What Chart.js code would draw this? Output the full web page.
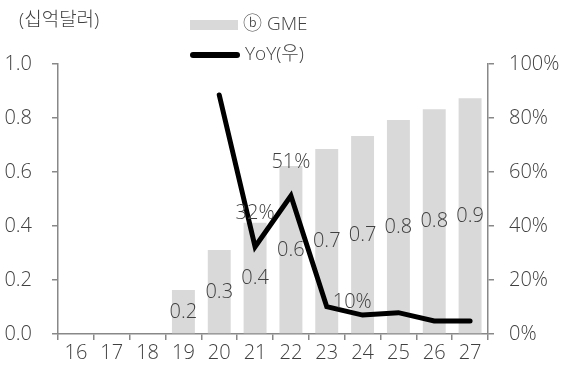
<!DOCTYPE html>
<html>
<head>
<meta charset="utf-8">
<script src="https://cdn.jsdelivr.net/npm/chart.js@4"></script>
<style>
  html, body { margin: 0; padding: 0; background: #fff; }
  #wrap { position: relative; width: 564px; height: 368px; font-family: "Open Sans", "Noto Sans CJK KR", sans-serif; font-weight: 300; color: #404040; }
  #unit { position: absolute; left: 19px; top: 4px; font-size: 19px; }
  .leg { position: absolute; left: 190px; font-size: 19px; line-height: 22px; }
  .leg span { display: inline-block; vertical-align: middle; margin-right: 5px; }
  #leg1 { top: 12px; }
  #leg2 { top: 42px; }
</style>
</head>
<body>
<div id="wrap">
  <canvas id="gmeChart" width="564" height="368"></canvas>
  <div id="unit">(십억달러)</div>
  <div class="leg" id="leg1"><span style="width:48px;height:10px;background:#d9d9d9"></span>ⓑ GME</div>
  <div class="leg" id="leg2"><span style="width:50px;height:6px;background:#000;border-radius:3px"></span>YoY(우)</div>
</div>
<script>
const years = ['16', '17', '18', '19', '20', '21', '22', '23', '24', '25', '26', '27'];
const gme = [null, null, null, 0.163, 0.311, 0.412, 0.622, 0.685, 0.733, 0.793, 0.832, 0.873];
const yoy = [null, null, null, null, 88.5, 32.3, 51.2, 10.1, 7.0, 7.9, 4.8, 4.8];
const leftTicks = [0, 0.2, 0.4, 0.6, 0.8, 1.0];
const rightTicks = [0, 20, 40, 60, 80, 100];
// which yoy points get a label, and where
const yoyLabelAt = { '21': 'above', '22': 'above', '23': 'right' };

const labelColor = '#404040';
const fontFamily = '"Open Sans", "Noto Sans CJK KR", sans-serif';
const labelFont = '300 20px ' + fontFamily;
const tickFont = { size: 20, weight: 300, family: fontFamily };

const valueLabels = {
  id: 'valueLabels',
  afterDatasetsDraw(chart) {
    const ctx = chart.ctx;
    const x = chart.scales.x, y = chart.scales.y, y2 = chart.scales.y2;
    ctx.save();
    ctx.font = labelFont;
    ctx.fillStyle = labelColor;
    ctx.textBaseline = 'middle';
    gme.forEach((v, i) => {
      if (v == null) return;
      ctx.textAlign = 'center';
      ctx.fillText(v.toFixed(1), x.getPixelForValue(i), y.getPixelForValue(v / 2));
    });
    yoy.forEach((v, i) => {
      const pos = yoyLabelAt[years[i]];
      if (v == null || !pos) return;
      const px = x.getPixelForValue(i), py = y2.getPixelForValue(v);
      const txt = Math.round(v) + '%';
      if (pos === 'above') {
        ctx.textAlign = 'center';
        ctx.fillText(txt, px, py - 33);
      } else {
        ctx.textAlign = 'left';
        ctx.fillText(txt, px + 6, py - 4);
      }
    });
    ctx.restore();
  }
};

const ctx = document.getElementById('gmeChart').getContext('2d');
const gmeChart = new Chart(ctx, {
  data: {
    labels: years,
    datasets: [{
      type: 'line',
      label: 'YoY(우)',
      data: yoy,
      yAxisID: 'y2',
      borderColor: '#000',
      borderWidth: 5,
      pointRadius: 0,
      tension: 0,
      borderCapStyle: 'round',
      borderJoinStyle: 'miter'
    }, {
      type: 'bar',
      label: 'ⓑ GME',
      data: gme,
      yAxisID: 'y',
      backgroundColor: '#d9d9d9',
      categoryPercentage: 1,
      barPercentage: 0.64
    }]
  },
  options: {
    responsive: false,
    animation: false,
    layout: { padding: { top: 64, left: 0, right: 0, bottom: 0 } },
    plugins: { legend: { display: false }, tooltip: { enabled: false } },
    scales: {
      x: {
        offset: true,
        grid: { offset: true, drawOnChartArea: false, drawTicks: true, tickLength: 6, color: '#888', lineWidth: 1.5 },
        border: { color: '#888', width: 1.5 },
        ticks: { color: labelColor, font: tickFont, padding: 1, maxRotation: 0 },
        afterFit(s) { s.height = 34; }
      },
      y: {
        position: 'left',
        min: 0, max: 1,
        afterBuildTicks(s) { s.ticks = leftTicks.map(v => ({ value: v })); },
        grid: { drawOnChartArea: false, tickLength: 6, color: '#888', lineWidth: 1.5 },
        border: { color: '#888', width: 1.5 },
        ticks: { color: labelColor, font: tickFont, padding: 20, callback: v => v.toFixed(1) },
        afterFit(s) { s.width = 58; }
      },
      y2: {
        position: 'right',
        min: 0, max: 100,
        afterBuildTicks(s) { s.ticks = rightTicks.map(v => ({ value: v })); },
        grid: { drawOnChartArea: false, tickLength: 6, color: '#888', lineWidth: 1.5 },
        border: { color: '#888', width: 1.5 },
        ticks: { color: labelColor, font: tickFont, padding: 15, callback: v => v + '%' },
        afterFit(s) { s.width = 76; }
      }
    }
  },
  plugins: [valueLabels]
});
</script>
</body>
</html>
